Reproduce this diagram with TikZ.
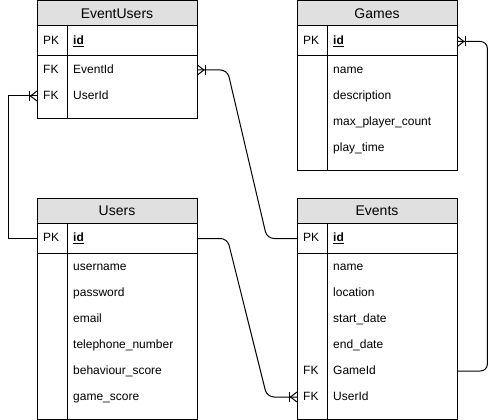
\documentclass[tikz,border=0pt]{standalone}
\usepackage{fontspec}
\setmainfont{Liberation Sans}
\usetikzlibrary{calc}
\definecolor{hdr}{RGB}{224,224,224}
\tikzset{
  tbl/.style={draw=black, line width=1pt, inner sep=0pt, anchor=north west, minimum width=160pt},
  hdrfill/.style={fill=hdr},
  sep/.style={draw=black, line width=1pt},
  title/.style={font=\fontsize{14pt}{16pt}\selectfont, inner sep=0pt, anchor=center},
  keytxt/.style={font=\fontsize{12pt}{14pt}\selectfont, anchor=west, text width=18pt, inner xsep=6pt, inner ysep=7pt, text height=9pt, text depth=2.5pt, align=left},
  fldtxt/.style={font=\fontsize{12pt}{14pt}\selectfont, anchor=west, text width=118pt, inner xsep=6pt, inner ysep=7pt, text height=9pt, text depth=2.5pt, align=left},
  conn/.style={draw=black, line width=1pt},
}
\newcommand\crowft[2]{%
  \draw[conn] ($(#1)+(0,5)$) -- ($(#1)+(#2*6.5,0)$) -- ($(#1)+(0,-5)$);
  \draw[conn] ($(#1)+(#2*8,5)$) -- ($(#1)+(#2*8,-5)$);}
\newcommand\pkid{\underline{\textbf{id}}}
\begin{document}
\begin{tikzpicture}[x=1pt,y=-1pt]
\useasboundingbox (0,0) rectangle (496,420);

% ---------- EventUsers ----------
\fill[hdrfill] (37,0.5) rectangle (197,26);
\node[tbl, minimum height=117.5pt] (eu) at (37,0.5) {};
\draw[sep] (37,26) -- (197,26);
\draw[sep] (37,56) -- (197,56);
\draw[sep] (67,26) -- (67,118);
\node[title] (eut) at (117,13.5) {EventUsers};
\node[keytxt] (euidk) at (37,41.5) {PK};
\node[fldtxt] (euid) at (67,41.5) {\pkid};
\node[keytxt] (euevk) at (37,70) {FK};
\node[fldtxt] (euev) at (67,70) {EventId};
\node[keytxt] (euusk) at (37,96) {FK};
\node[fldtxt] (euus) at (67,96) {UserId};

% ---------- Games ----------
\fill[hdrfill] (297,0.5) rectangle (457,26);
\node[tbl, minimum height=169.5pt] (ga) at (297,0.5) {};
\draw[sep] (297,26) -- (457,26);
\draw[sep] (297,56) -- (457,56);
\draw[sep] (327,26) -- (327,170);
\node[title] (gat) at (377,13.5) {Games};
\node[keytxt] (gaidk) at (297,41.5) {PK};
\node[fldtxt] (gaid) at (327,41.5) {\pkid};
\node[fldtxt] (ganm) at (327,70) {name};
\node[fldtxt] (gads) at (327,96) {description};
\node[fldtxt] (gamx) at (327,122) {max\_player\_count};
\node[fldtxt] (gapt) at (327,148) {play\_time};

% ---------- Users ----------
\fill[hdrfill] (37,197.5) rectangle (197,223);
\node[tbl, minimum height=221.5pt] (us) at (37,197.5) {};
\draw[sep] (37,223) -- (197,223);
\draw[sep] (37,253) -- (197,253);
\draw[sep] (67,223) -- (67,419);
\node[title] (ust) at (117,210.5) {Users};
\node[keytxt] (usidk) at (37,238.5) {PK};
\node[fldtxt] (usid) at (67,238.5) {\pkid};
\node[fldtxt] (usun) at (67,267) {username};
\node[fldtxt] (uspw) at (67,293) {password};
\node[fldtxt] (usem) at (67,319) {email};
\node[fldtxt] (ustel) at (67,345) {telephone\_number};
\node[fldtxt] (usbs) at (67,371) {behaviour\_score};
\node[fldtxt] (usgs) at (67,397) {game\_score};

% ---------- Events ----------
\fill[hdrfill] (297,197.5) rectangle (457,223);
\node[tbl, minimum height=221.5pt] (ev) at (297,197.5) {};
\draw[sep] (297,223) -- (457,223);
\draw[sep] (297,253) -- (457,253);
\draw[sep] (327,223) -- (327,419);
\node[title] (evt) at (377,210.5) {Events};
\node[keytxt] (evidk) at (297,238.5) {PK};
\node[fldtxt] (evid) at (327,238.5) {\pkid};
\node[fldtxt] (evnm) at (327,267) {name};
\node[fldtxt] (evlc) at (327,293) {location};
\node[fldtxt] (evsd) at (327,319) {start\_date};
\node[fldtxt] (eved) at (327,345) {end\_date};
\node[keytxt] (evgmk) at (297,371) {FK};
\node[fldtxt] (evgm) at (327,371) {GameId};
\node[keytxt] (evusk) at (297,397) {FK};
\node[fldtxt] (evus) at (327,397) {UserId};

% ---------- Connectors ----------
\draw[conn] (usidk.west) -- ++(-29,0) |- (euusk.west);
\crowft{euusk.west}{-1}

\draw[conn, rounded corners=7pt] (euev.east) -- ++(30,0) -- ($(evidk.west)+(-30,0)$) -- (evidk.west);
\crowft{euev.east}{1}

\draw[conn, rounded corners=7pt] (usid.east) -- ++(30,0) -- ($(evusk.west)+(-30,0)$) -- (evusk.west);
\crowft{evusk.west}{-1}

\draw[conn, rounded corners=7pt] (evgm.east) -- ++(30,0) |- (gaid.east);
\crowft{gaid.east}{1}
\end{tikzpicture}
\end{document}
